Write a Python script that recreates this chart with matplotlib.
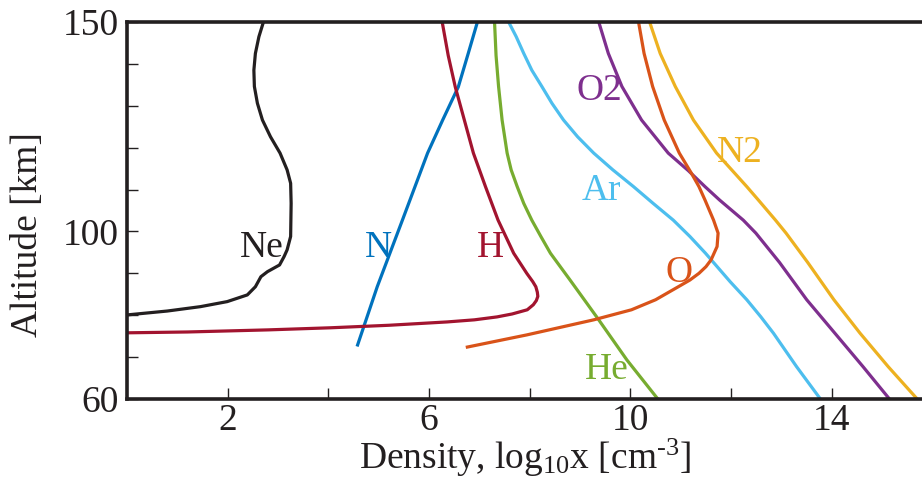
import matplotlib
matplotlib.use("Agg")
import matplotlib.pyplot as plt

# altitude [km] / log10 density [cm^-3]
ne_alt = [150, 146.5, 142.5, 138.5, 134.6, 130.6, 126.6, 122.6, 118.7, 114.7, 111.5, 106.7, 98.8,
          95.6, 94.0, 92.0, 90.4, 89.2, 86.8, 84.85, 83.25, 82.05, 81.0, 80.07]
ne_den = [2.71, 2.62, 2.55, 2.52, 2.53, 2.59, 2.69, 2.85, 3.04, 3.18, 3.25, 3.26, 3.25,
          3.18, 3.12, 3.03, 2.79, 2.66, 2.55, 2.39, 1.99, 1.46, 0.80, 0.0]

n_alt = [150, 142.6, 134.5, 126.6, 118.7, 102.7, 86.8, 72.9]
n_den = [6.96, 6.78, 6.58, 6.27, 5.97, 5.47, 4.97, 4.58]

h_alt = [150, 142, 134.5, 126.6, 118.7, 110.7, 102.7, 94.8, 90, 88, 86.8, 85.5, 84.5, 83.5, 82.5,
         81.3, 80.3, 79.6, 78.9, 78.4, 77.6, 77.0, 76.5, 76.0, 75.8]
h_den = [6.26, 6.38, 6.52, 6.70, 6.88, 7.12, 7.37, 7.68, 7.94, 8.06, 8.12, 8.15, 8.16, 8.13, 8.07,
         7.95, 7.65, 7.35, 6.9, 6.36, 5.2, 4.04, 2.8, 1.2, 0.0]

he_alt = [150, 142, 134.6, 126.6, 118.7, 114.7, 110.7, 106.7, 102.7, 98.8, 94.8, 88.4, 79.4, 69.3, 60.2]
he_den = [7.30, 7.33, 7.38, 7.45, 7.55, 7.63, 7.75, 7.88, 8.04, 8.22, 8.41, 8.80, 9.34, 9.93, 10.53]

ar_alt = [150, 146.5, 142.5, 138.5, 134.6, 130.6, 126.6, 122.6, 118.7, 114.7, 110.7, 106.7, 102.7,
          98.8, 94.8, 88, 83.7, 79.6, 75.7, 67.7, 60.2]
ar_den = [7.58, 7.73, 7.88, 8.04, 8.24, 8.44, 8.67, 8.95, 9.27, 9.65, 10.06, 10.45, 10.85,
          11.18, 11.49, 11.98, 12.31, 12.59, 12.84, 13.30, 13.76]

o2_alt = [150, 142.5, 134.6, 126.6, 118.7, 114.5, 110.7, 107.5, 102.7, 99.6, 92.6, 83.7, 75.7, 67.7, 60.2]
o2_den = [9.37, 9.56, 9.83, 10.22, 10.75, 11.15, 11.48, 11.77, 12.24, 12.49, 12.96, 13.50, 14.06, 14.62, 15.13]

o_alt = [150, 142.5, 134.6, 126.6, 118.7, 113.9, 110.7, 107.5, 102.7, 99.6, 96.4, 93.2, 91.6, 90.0,
         88.4, 86.8, 83.7, 81.3, 78.9, 75.3, 72.4]
o_den = [10.16, 10.27, 10.44, 10.67, 10.97, 11.21, 11.36, 11.48, 11.65, 11.74, 11.72, 11.60, 11.50, 11.36,
         11.18, 10.95, 10.50, 10.02, 9.27, 7.94, 6.76]

n2_alt = [150, 142.5, 134.6, 126.6, 118.7, 110.7, 107.5, 102.7, 99.6, 92.6, 83.7, 75.7, 67.7, 60.2]
n2_den = [10.38, 10.59, 10.89, 11.25, 11.71, 12.31, 12.54, 12.88, 13.09, 13.52, 14.04, 14.56, 15.12, 15.68]

species = ["Ne", "N", "H", "He", "Ar", "O2", "O", "N2"]
profiles = [(ne_den, ne_alt), (n_den, n_alt), (h_den, h_alt), (he_den, he_alt),
            (ar_den, ar_alt), (o2_den, o2_alt), (o_den, o_alt), (n2_den, n2_alt)]
colors = ["#231f20", "#0072BD", "#A2142F", "#77AC30",
          "#4DBEEE", "#7E2F8E", "#D95319", "#EDB120"]
# label anchors (density, altitude of baseline)
label_x = [2.67, 5.0, 7.21, 9.53, 9.43, 9.39, 10.96, 12.18]
label_y = [93.9, 93.9, 93.9, 64.8, 107.5, 131.4, 88.0, 116.5]

plt.rcParams["font.family"] = ["Liberation Serif", "DejaVu Serif"]
plt.rcParams["mathtext.fontset"] = "custom"
plt.rcParams["mathtext.rm"] = "Liberation Serif"
plt.rcParams["mathtext.it"] = "Liberation Serif:italic"

fig = plt.figure(figsize=(9.22, 4.98), dpi=100)
ax = fig.add_axes([127 / 922, 1 - 399 / 498, 1 - 127 / 922, (399 - 22) / 498])

for name, (den, alt), color in zip(species, profiles, colors):
    ax.plot(den, alt, color=color, lw=2.3, solid_joinstyle="round")

for name, x, y, color in zip(species, label_x, label_y, colors):
    ax.text(x, y, name, color=color, fontsize=27, ha="center", va="baseline")

ax.set_xlim(0, 15.79)
ax.set_ylim(60, 150)
ax.set_xticks([2, 6, 10, 14])
ax.set_xticks([4, 8, 12], minor=True)
ax.set_yticks([60, 100, 150])
ax.set_yticks([70, 80, 90, 110, 120, 130, 140], minor=True)
ax.tick_params(which="both", direction="in", length=8, width=1.0,
               color="#231f20", labelsize=27, labelcolor="#231f20")
ax.tick_params(axis="x", which="both", pad=3)
ax.tick_params(axis="y", which="both", pad=6)

for side in ["left", "bottom", "top"]:
    ax.spines[side].set_linewidth(2.6)
    ax.spines[side].set_color("#231f20")
ax.spines["right"].set_visible(False)

fig.text(28 / 922, 1 - 235 / 498, "Altitude [km]", rotation=90,
         ha="center", va="center", fontsize=27, color="#231f20")
fig.text(525 / 922, 1 - 469 / 498, r"Density, log$_{10}$x [cm$^{\text{-3}}$]",
         ha="center", va="baseline", fontsize=27, color="#231f20")

fig.savefig("out.png", dpi=100)
